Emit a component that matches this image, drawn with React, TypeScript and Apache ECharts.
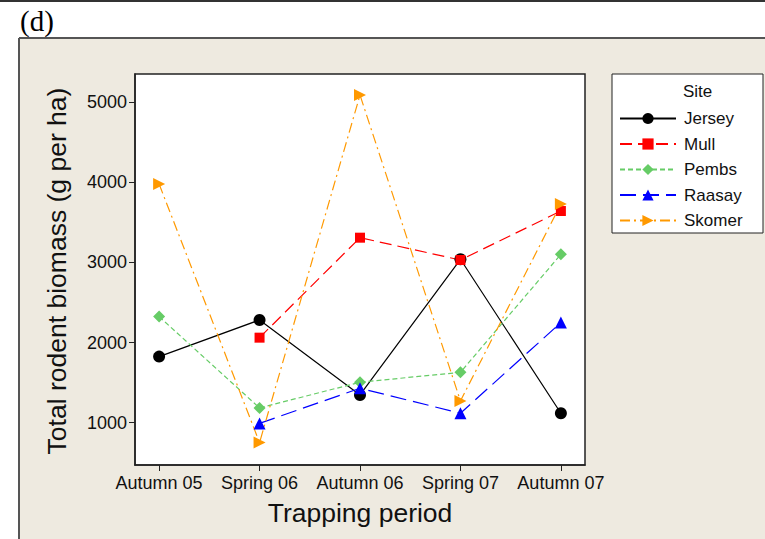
import React, { useEffect, useRef } from "react";
import * as echarts from "echarts";

const periods = ["Autumn 05", "Spring 06", "Autumn 06", "Spring 07", "Autumn 07"];
const yTicks = [1000, 2000, 3000, 4000, 5000];
const jersey = [1824, 2282, 1345, 3040, 1117];
const mull = [null, 2061, 3310, 3031, 3643];
const pembs = [2324, 1183, 1504, 1628, 3102];
const raasay = [null, 990, 1429, 1117, 2249];
const skomer = [3980, 750, 5092, 1270, 3730];

const FONT = "'Liberation Sans', Arial, sans-serif";

function toPairs(vals: (number | null)[]) {
  return vals.map((v, i) => [i, v]).filter((p) => p[1] !== null);
}

export default function App() {
  const ref = useRef<HTMLDivElement>(null);
  useEffect(() => {
    const chart = echarts.init(ref.current!, null, { renderer: "svg" });
    const mk = (
      name: string,
      vals: (number | null)[],
      color: string,
      symbol: string,
      size: number,
      dash: any,
      rotate = 0
    ) => ({
      name,
      type: "line",
      data: toPairs(vals),
      symbol,
      symbolSize: size,
      symbolRotate: rotate,
      clip: false,
      itemStyle: { color },
      lineStyle: { color, width: 1.2, type: dash },
    });
    chart.setOption({
      animation: false,
      backgroundColor: "#ffffff",
      textStyle: { fontFamily: FONT },
      graphic: [
        { type: "rect", z: -10, shape: { x: 0, y: 0, width: 765, height: 2 }, style: { fill: "#333" } },
        { type: "text", z: -5, left: 20, top: 6, style: { text: "(d)", fontFamily: "'Liberation Serif', 'Times New Roman', serif", fontSize: 29, fill: "#000" } },
        { type: "rect", z: -10, shape: { x: 19, y: 38, width: 746, height: 501 }, style: { fill: "#EEEAE0" } },
        { type: "rect", z: -9, shape: { x: 19, y: 37, width: 746, height: 2 }, style: { fill: "#555" } },
        { type: "rect", z: -9, shape: { x: 18, y: 38, width: 2, height: 501 }, style: { fill: "#555" } },
        { type: "rect", z: -8, shape: { x: 612, y: 74, width: 151, height: 159 }, style: { fill: "#fff", stroke: "#222", lineWidth: 1 } },
        { type: "text", z: 10, x: 683, y: 91, style: { text: "Site", fontFamily: FONT, fontSize: 17, fill: "#111", textVerticalAlign: "middle" } },
        { type: "text", z: 10, x: 57, y: 271, rotation: Math.PI / 2, style: { text: "Total rodent biomass (g per ha)", fontFamily: FONT, fontSize: 26.5, fill: "#111", textAlign: "center", textVerticalAlign: "middle" } },
        { type: "text", z: 10, x: 360, y: 513, style: { text: "Trapping period", fontFamily: FONT, fontSize: 26.5, fill: "#111", textAlign: "center", textVerticalAlign: "middle" } },
      ],
      grid: {
        left: 135,
        right: 180,
        top: 74,
        bottom: 74,
        show: true,
        backgroundColor: "#ffffff",
        borderColor: "#222",
        borderWidth: 1.5,
      },
      legend: {
        left: 619,
        top: 110,
        padding: 0,
        orient: "vertical",
        itemWidth: 56,
        itemHeight: 14,
        itemGap: 8.5,
        textStyle: { fontFamily: FONT, fontSize: 17, color: "#111", padding: [0, 0, 0, 3] },
        data: ["Jersey", "Mull", "Pembs", "Raasay", "Skomer"],
      },
      xAxis: {
        type: "value",
        min: -0.24,
        max: 4.24,
        splitLine: { show: false },
        axisLine: { show: true, onZero: false, lineStyle: { color: "#222", width: 1.5 } },
        axisTick: { show: true, length: 6, customValues: [0, 1, 2, 3, 4], lineStyle: { color: "#222" } },
        axisLabel: {
          customValues: [0, 1, 2, 3, 4],
          formatter: (v: number) => periods[Math.round(v)] ?? "",
          fontFamily: FONT,
          fontSize: 18,
          color: "#111",
          margin: 9,
        },
      },
      yAxis: {
        type: "value",
        min: 470,
        max: 5355,
        splitLine: { show: false },
        axisLine: { show: true, onZero: false, lineStyle: { color: "#222", width: 1.5 } },
        axisTick: { show: true, length: 6, customValues: yTicks, lineStyle: { color: "#222" } },
        axisLabel: {
          customValues: yTicks,
          formatter: (v: number) => String(v),
          fontFamily: FONT,
          fontSize: 18,
          color: "#111",
          margin: 8,
        },
      },
      series: [
        mk("Jersey", jersey, "#000000", "circle", 12, "solid"),
        mk("Mull", mull, "#FF0000", "rect", 10, [12, 6]),
        mk("Pembs", pembs, "#66CC66", "diamond", 12, [5, 3]),
        mk("Raasay", raasay, "#0000FF", "triangle", 12, [16, 7]),
        mk("Skomer", skomer, "#FF9900", "triangle", 12, [10, 4, 2, 4], -90),
      ],
    });
    return () => chart.dispose();
  }, []);
  return <div ref={ref} style={{ position: "fixed", left: 0, top: 0, width: 765, height: 539 }} />;
}
